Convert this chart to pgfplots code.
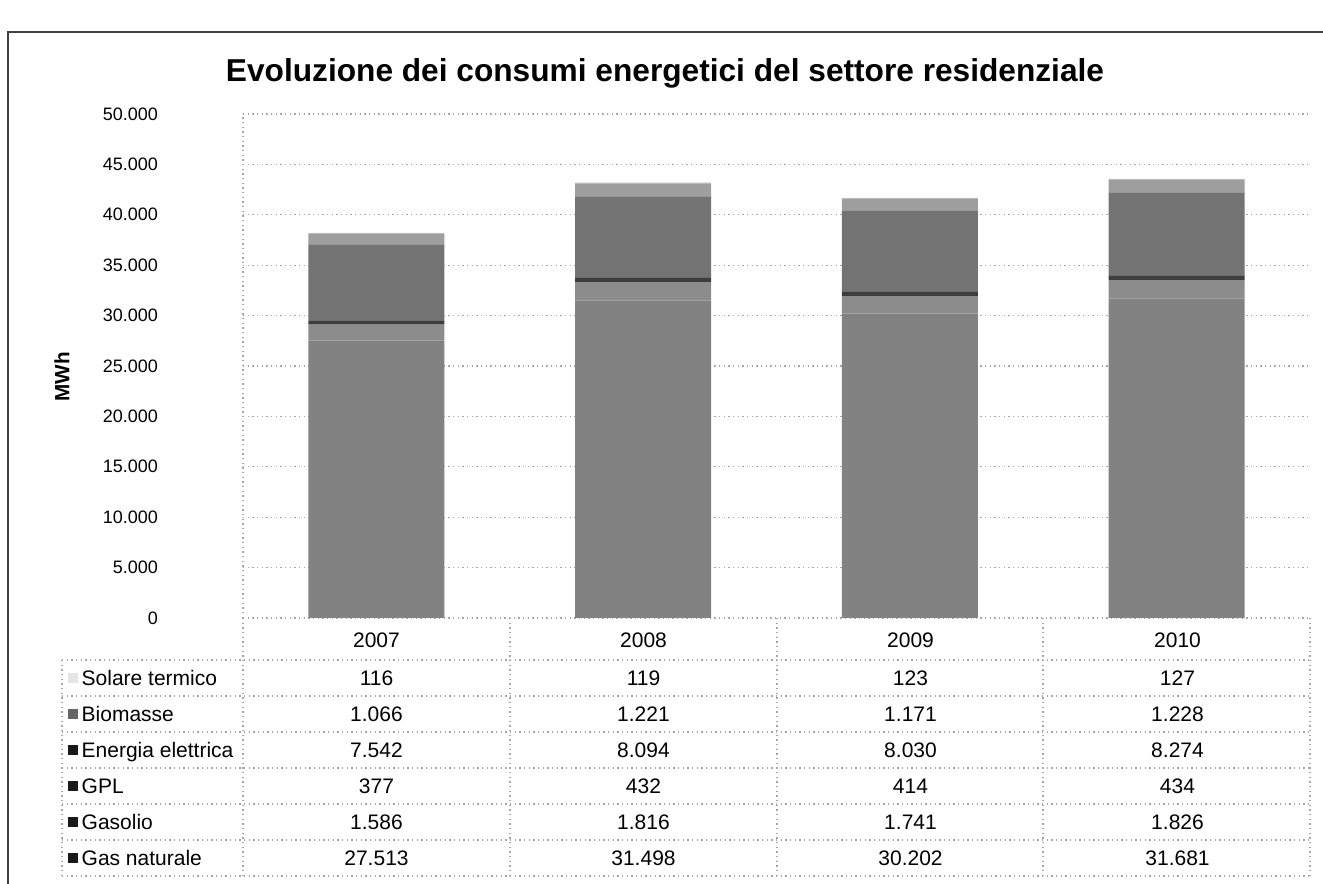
\documentclass[border=0pt]{standalone}
\usepackage{fontspec}
\setmainfont{Liberation Sans}
\usepackage{pgfplots}
\usepackage{pgfplotstable}
\pgfplotsset{compat=1.18}

\definecolor{cgas}{gray}{0.51}
\definecolor{cgasolio}{gray}{0.55}
\definecolor{cgpl}{gray}{0.24}
\definecolor{celet}{gray}{0.45}
\definecolor{cbio}{gray}{0.62}
\definecolor{csol}{gray}{0.74}
\definecolor{gridc}{gray}{0.65}

% consumi per anno (MWh)
\pgfplotstableread{
x year gas gasolio gpl elettrica biomasse solare
0 2007 27513 1586 377 7542 1066 116
1 2008 31498 1816 432 8094 1221 119
2 2009 30202 1741 414 8030 1171 123
3 2010 31681 1826 434 8274 1228 127
}\datatable

\newcommand{\tickfont}{\fontsize{5.4}{6}\selectfont}
\newcommand{\tabfont}{\fontsize{6.3}{7.5}\selectfont}

\begin{document}
\begin{tikzpicture}
% 1 px of the reference = 0.3pt
\begin{scope}[x=0.3pt,y=-0.3pt]
\useasboundingbox (0,0) rectangle (1323,884);
\draw[black!75, line width=0.4pt] (8,884) -- (8,32) -- (1323,32);
\node[font=\fontsize{9.5}{11}\selectfont\bfseries] at (665,73)
  {Evoluzione dei consumi energetici del settore residenziale};
\node[rotate=90, font=\fontsize{6.2}{7}\selectfont\bfseries] at (62,377) {MWh};
\end{scope}

\begin{axis}[at={(72.9pt,-185.4pt)}, anchor=south west,
  width=320.1pt, height=151.2pt, scale only axis,
  ybar stacked, bar width=40.8pt,
  xmin=-0.5, xmax=3.5, ymin=0, ymax=50000,
  xtick=\empty, ytick={0,5000,...,50000},
  scaled y ticks=false,
  axis x line=bottom, axis y line=left,
  axis line style={gridc, densely dotted, -},
  ymajorgrids, grid style={gridc, densely dotted},
  major tick length=0pt,
  yticklabel style={font=\tickfont, xshift=-22pt,
    /pgf/number format/.cd, fixed, precision=0,
    set thousands separator={.}, assume math mode=true},
  every axis plot/.append style={draw=none}]
\addplot[fill=cgas] table[x=x, y=gas] {\datatable};
\addplot[fill=cgasolio] table[x=x, y=gasolio] {\datatable};
\addplot[fill=cgpl] table[x=x, y=gpl] {\datatable};
\addplot[fill=celet] table[x=x, y=elettrica] {\datatable};
\addplot[fill=cbio] table[x=x, y=biomasse] {\datatable};
\addplot[fill=csol] table[x=x, y=solare] {\datatable};
\end{axis}

\begin{scope}[x=0.3pt,y=-0.3pt]
% griglia della tabella
\foreach \yy in {660,696,732,768,804,840,876}
  \draw[gridc, densely dotted] (62,\yy) -- (1310,\yy);
\draw[gridc, densely dotted] (62,660) -- (62,876);
\foreach \xx in {243,510,777,1043,1310}
  \draw[gridc, densely dotted] (\xx,618) -- (\xx,876);
% anni
\foreach \i in {0,...,3} {
  \pgfplotstablegetelem{\i}{year}\of\datatable
  \node[font=\tabfont, anchor=base, inner sep=0pt] at ({376.5+\i*267},647) {\pgfplotsretval};
}
% etichette e valori
\foreach \col/\lab/\cc/\r in {solare/Solare termico/gray!20/0,
    biomasse/Biomasse/black!60/1, elettrica/Energia elettrica/black!90/2,
    gpl/GPL/black!90/3, gasolio/Gasolio/black!90/4, gas/Gas naturale/black!90/5} {
  \fill[\cc] (68,{673+\r*36}) rectangle (78,{683+\r*36});
  \node[font=\tabfont, anchor=base west, inner sep=0pt] at (81,{685+\r*36}) {\lab};
  \foreach \i in {0,...,3} {
    \pgfplotstablegetelem{\i}{\col}\of\datatable
    \node[font=\tabfont, anchor=base, inner sep=0pt] at ({376.5+\i*267},{685+\r*36})
      {\pgfmathprintnumber[fixed, precision=0, set thousands separator={.},
        assume math mode=true]{\pgfplotsretval}};
  }
}
\end{scope}
\end{tikzpicture}
\end{document}
